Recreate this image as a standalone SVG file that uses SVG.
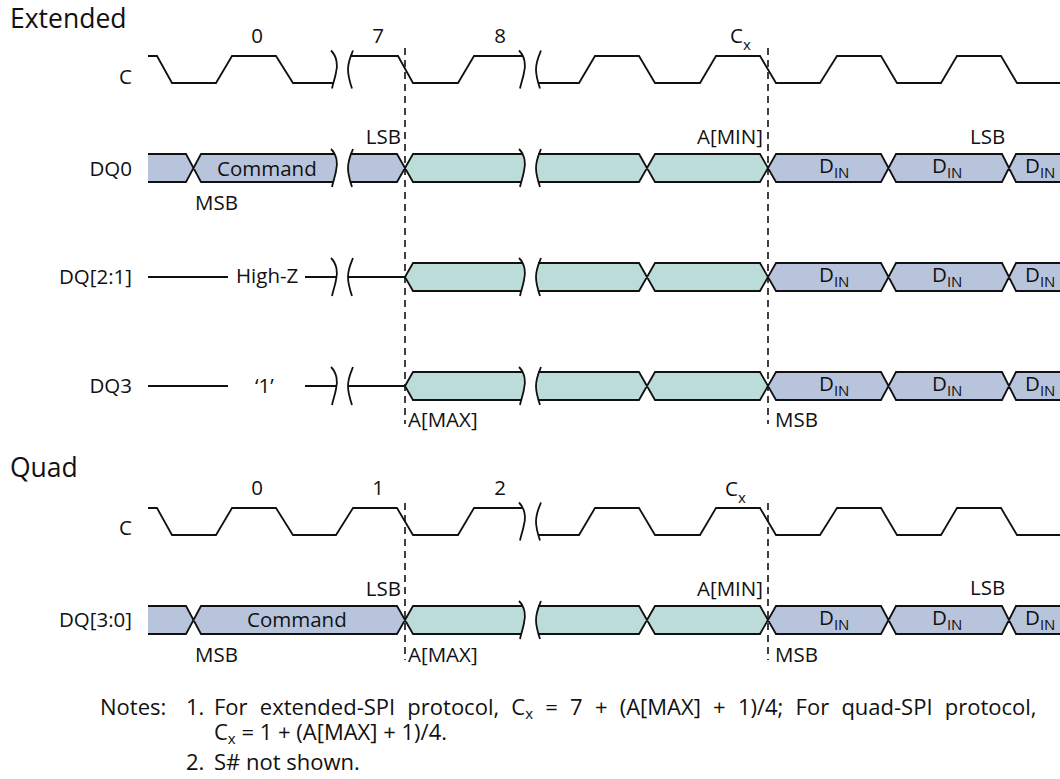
<svg xmlns="http://www.w3.org/2000/svg" width="1060" height="779" viewBox="0 0 1060 779">
<style>
text{font-family:"Open Sans","Noto Sans","Liberation Sans",sans-serif;fill:#111;}
.lbl{font-size:20.5px;}
.ttl{font-size:26.5px;}
.sub{font-size:15px;}
.note{font-size:22px;}
.w{fill:none;stroke:#111;stroke-width:1.8;stroke-linejoin:miter;}
.p{fill:#b8c4dc;stroke:none;}
.t{fill:#bcdcda;stroke:none;}
.dash{fill:none;stroke:#111;stroke-width:1.6;stroke-dasharray:7,5;}
.end{text-anchor:end;}
.mid{text-anchor:middle;}
</style>
<defs>
<path id="brR" d="M-1,-19 C5,-13 6,-4 4,3 C3,9 1,14 0,19" class="w"/>
<path id="brL" d="M1,-19 C-1,-14 -4,-8 -4,0 C-4,7 -2,13 0,19" class="w"/>
</defs>

<text class="ttl" x="10" y="28">Extended</text>
<text class="ttl" x="10" y="477">Quad</text>

<!-- Extended clock -->
<g id="ext-C">
<text class="lbl end" x="132" y="84">C</text>
<text class="lbl mid" x="257" y="43">0</text>
<text class="lbl mid" x="378" y="43">7</text>
<text class="lbl mid" x="500" y="43">8</text>
<text class="lbl" x="730" y="43">C<tspan class="sub" dy="7">x</tspan></text>
<path class="w" d="M148,56 H157 L172,83 H216 L232,56 H276 L293,83 H334 M350,56 H398 L413,83 H458 L474,56 H522 M538,83 H579 L595,56 H639 L655,83 H700 L716,56 H760 L776,83 H820 L837,56 H881 L897,83 H941 L957,56 H1001 L1017,83 H1062"/>
<use href="#brR" x="332" y="69.5"/><use href="#brL" x="352" y="69.5"/>
<use href="#brR" x="520" y="69.5"/><use href="#brL" x="540" y="69.5"/>
</g>

<!-- Extended DQ0 -->
<g id="ext-DQ0">
<text class="lbl end" x="132" y="176">DQ0</text>
<path class="p" d="M148,154 H186 L193.5,168 L186,182 H148 Z"/>
<path class="p" d="M201,154 H334 Q338.5,168 334,182 H201 L193.5,168 Z"/>
<path class="p" d="M350,154 H397 L405,168 L397,182 H350 Q346,168 350,154 Z"/>
<path class="t" d="M413,154 H522 Q526.5,168 522,182 H413 L405,168 Z"/>
<path class="t" d="M538,154 H639 L647,168 L639,182 H538 Q534,168 538,154 Z"/>
<path class="t" d="M655,154 H760 L768,168 L760,182 H655 L647,168 Z"/>
<path class="p" d="M776,154 H881 L888.5,168 L881,182 H776 L768,168 Z"/>
<path class="p" d="M896,154 H1002 L1009,168 L1002,182 H896 L888.5,168 Z"/>
<path class="p" d="M1016,154 H1062 V182 H1016 L1009,168 Z"/>
<path class="w" d="M148,154 H186 L201,182 H334 M148,182 H186 L201,154 H334 M350,154 H397 L413,182 H522 M350,182 H397 L413,154 H522 M538,154 H639 L655,182 H760 L776,154 H881 L896,182 H1002 L1016,154 H1062 M538,182 H639 L655,154 H760 L776,182 H881 L896,154 H1002 L1016,182 H1062"/>
<use href="#brR" x="332" y="168"/><use href="#brL" x="352" y="168"/>
<use href="#brR" x="520" y="168"/><use href="#brL" x="540" y="168"/>
<text class="lbl" x="217" y="176">Command</text>
<text class="lbl" x="195" y="210">MSB</text>
<text class="lbl end" x="401" y="144">LSB</text>
<text class="lbl end" x="763" y="144">A[MIN]</text>
<text class="lbl" x="970" y="144">LSB</text>
<text class="lbl" x="819" y="173">D<tspan class="sub" dy="5">IN</tspan></text>
<text class="lbl" x="932" y="173">D<tspan class="sub" dy="5">IN</tspan></text>
<text class="lbl" x="1025" y="173">D<tspan class="sub" dy="5">IN</tspan></text>
</g>

<!-- Extended DQ[2:1] -->
<g id="ext-DQ21">
<text class="lbl end" x="132" y="284">DQ[2:1]</text>
<path class="t" d="M405,277 L413,263 H522 Q526.5,277 522,291 H413 Z"/>
<path class="t" d="M538,263 H639 L647,277 L639,291 H538 Q534,277 538,263 Z"/>
<path class="t" d="M655,263 H760 L768,277 L760,291 H655 L647,277 Z"/>
<path class="p" d="M776,263 H881 L888.5,277 L881,291 H776 L768,277 Z"/>
<path class="p" d="M896,263 H1002 L1009,277 L1002,291 H896 L888.5,277 Z"/>
<path class="p" d="M1016,263 H1062 V291 H1016 L1009,277 Z"/>
<path class="w" d="M148,277 H228 M305,277 H336 M348,277 H405 L413,263 H522 M405,277 L413,291 H522 M538,263 H639 L655,291 H760 L776,263 H881 L896,291 H1002 L1016,263 H1062 M538,291 H639 L655,263 H760 L776,291 H881 L896,263 H1002 L1016,291 H1062"/>
<use href="#brR" x="332" y="277"/><use href="#brL" x="352" y="277"/>
<use href="#brR" x="520" y="277"/><use href="#brL" x="540" y="277"/>
<text class="lbl" x="236" y="283">High-Z</text>
<text class="lbl" x="819" y="282">D<tspan class="sub" dy="5">IN</tspan></text>
<text class="lbl" x="932" y="282">D<tspan class="sub" dy="5">IN</tspan></text>
<text class="lbl" x="1025" y="282">D<tspan class="sub" dy="5">IN</tspan></text>
</g>

<!-- Extended DQ3 -->
<g id="ext-DQ3">
<text class="lbl end" x="132" y="393">DQ3</text>
<path class="t" d="M405,386 L413,372 H522 Q526.5,386 522,400 H413 Z"/>
<path class="t" d="M538,372 H639 L647,386 L639,400 H538 Q534,386 538,372 Z"/>
<path class="t" d="M655,372 H760 L768,386 L760,400 H655 L647,386 Z"/>
<path class="p" d="M776,372 H881 L888.5,386 L881,400 H776 L768,386 Z"/>
<path class="p" d="M896,372 H1002 L1009,386 L1002,400 H896 L888.5,386 Z"/>
<path class="p" d="M1016,372 H1062 V400 H1016 L1009,386 Z"/>
<path class="w" d="M148,386 H228 M305,386 H336 M348,386 H405 L413,372 H522 M405,386 L413,400 H522 M538,372 H639 L655,400 H760 L776,372 H881 L896,400 H1002 L1016,372 H1062 M538,400 H639 L655,372 H760 L776,400 H881 L896,372 H1002 L1016,400 H1062"/>
<use href="#brR" x="332" y="386"/><use href="#brL" x="352" y="386"/>
<use href="#brR" x="520" y="386"/><use href="#brL" x="540" y="386"/>
<text class="lbl" x="255" y="393">‘1’</text>
<text class="lbl" x="819" y="391">D<tspan class="sub" dy="5">IN</tspan></text>
<text class="lbl" x="932" y="391">D<tspan class="sub" dy="5">IN</tspan></text>
<text class="lbl" x="1025" y="391">D<tspan class="sub" dy="5">IN</tspan></text>
<text class="lbl" x="408" y="427">A[MAX]</text>
<text class="lbl" x="775" y="427">MSB</text>
</g>

<!-- Quad clock -->
<g id="quad-C">
<text class="lbl end" x="132" y="535">C</text>
<text class="lbl mid" x="257" y="495">0</text>
<text class="lbl mid" x="378" y="495">1</text>
<text class="lbl mid" x="500" y="495">2</text>
<text class="lbl" x="725" y="496">C<tspan class="sub" dy="7">x</tspan></text>
<path class="w" d="M148,508 H157 L172,535 H216 L232,508 H276 L293,535 H336 L353,508 H397 L413,535 H458 L474,508 H522 M538,535 H579 L595,508 H639 L655,535 H700 L716,508 H760 L776,535 H820 L837,508 H881 L897,535 H941 L957,508 H1001 L1017,535 H1062"/>
<use href="#brR" x="520" y="521.5"/><use href="#brL" x="540" y="521.5"/>
</g>

<!-- Quad DQ[3:0] -->
<g id="quad-DQ30">
<text class="lbl end" x="132" y="627">DQ[3:0]</text>
<path class="p" d="M148,606 H186 L193.5,620 L186,634 H148 Z"/>
<path class="p" d="M201,606 H397 L405,620 L397,634 H201 L193.5,620 Z"/>
<path class="t" d="M413,606 H522 Q526.5,620 522,634 H413 L405,620 Z"/>
<path class="t" d="M538,606 H639 L647,620 L639,634 H538 Q534,620 538,606 Z"/>
<path class="t" d="M655,606 H760 L768,620 L760,634 H655 L647,620 Z"/>
<path class="p" d="M776,606 H881 L888.5,620 L881,634 H776 L768,620 Z"/>
<path class="p" d="M896,606 H1002 L1009,620 L1002,634 H896 L888.5,620 Z"/>
<path class="p" d="M1016,606 H1062 V634 H1016 L1009,620 Z"/>
<path class="w" d="M148,606 H186 L201,634 H397 L413,606 H522 M148,634 H186 L201,606 H397 L413,634 H522 M538,606 H639 L655,634 H760 L776,606 H881 L896,634 H1002 L1016,606 H1062 M538,634 H639 L655,606 H760 L776,634 H881 L896,606 H1002 L1016,634 H1062"/>
<use href="#brR" x="520" y="620"/><use href="#brL" x="540" y="620"/>
<text class="lbl" x="247" y="627">Command</text>
<text class="lbl" x="195" y="662">MSB</text>
<text class="lbl end" x="401" y="596">LSB</text>
<text class="lbl end" x="763" y="596">A[MIN]</text>
<text class="lbl" x="970" y="595">LSB</text>
<text class="lbl" x="408" y="662">A[MAX]</text>
<text class="lbl" x="775" y="662">MSB</text>
<text class="lbl" x="819" y="625">D<tspan class="sub" dy="5">IN</tspan></text>
<text class="lbl" x="932" y="625">D<tspan class="sub" dy="5">IN</tspan></text>
<text class="lbl" x="1025" y="625">D<tspan class="sub" dy="5">IN</tspan></text>
</g>

<!-- reference lines -->
<g id="connectors">
<path class="dash" d="M405,48 V424 M768,48 V424 M405,503 V660 M768,503 V660"/>
</g>

<g id="notes">
<text class="note" x="100" y="715">Notes:</text>
<text class="note" x="186" y="715">1.</text>
<text class="note" x="214" y="715" word-spacing="6.5">For extended-SPI protocol, C<tspan class="sub" dy="4">x</tspan><tspan dy="-4"> = 7 + (A[MAX] + 1)/4; For quad-SPI protocol,</tspan></text>
<text class="note" x="214" y="740">C<tspan class="sub" dy="4">x</tspan><tspan dy="-4"> = 1 + (A[MAX] + 1)/4.</tspan></text>
<text class="note" x="186" y="770">2.</text>
<text class="note" x="214" y="770">S# not shown.</text>
</g>
</svg>
